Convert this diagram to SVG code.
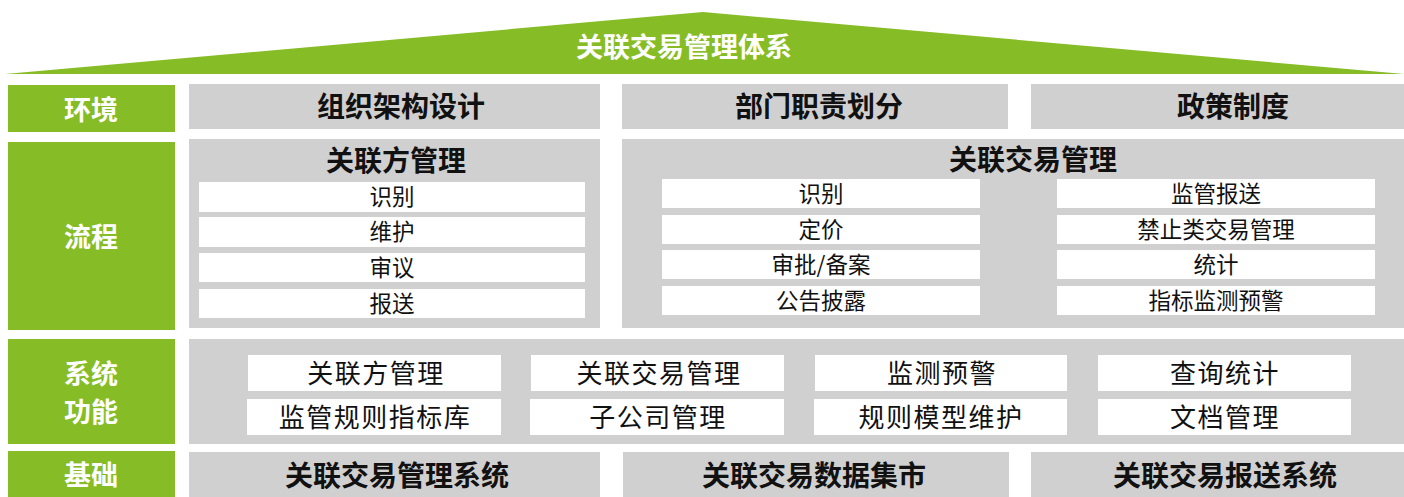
<svg xmlns="http://www.w3.org/2000/svg" width="1404" height="497" viewBox="0 0 1404 497">
<style>
text{font-family:"Noto Sans CJK SC","Noto Sans",sans-serif;text-anchor:middle;}
.g{fill:#86BC25;}
.p{fill:#D0D0D0;}
.w{fill:#FFFFFF;}
.lbl{fill:#FFFFFF;font-size:27px;font-weight:700;}
.hd{fill:#111111;font-size:28px;font-weight:700;}
.it{fill:#111111;font-size:22.5px;font-weight:400;}
.si{fill:#111111;font-size:26px;font-weight:400;letter-spacing:1.5px;}
</style>
<rect width="1404" height="497" fill="#FFFFFF"/>
<g id="roof">
<polygon class="g" points="5,74 703,12 1404,74"/>
<text class="lbl" x="684" y="57" font-size="28.5">关联交易管理体系</text>
</g>
<g id="row-env">
<rect class="g" x="8" y="85" width="167" height="47"/>
<text class="lbl" x="91" y="120">环境</text>
<g id="env-org"><rect class="p" x="189" y="84" width="411" height="45"/><text class="hd" x="401" y="117">组织架构设计</text></g>
<g id="env-dept"><rect class="p" x="622" y="84" width="386" height="45"/><text class="hd" x="819" y="117">部门职责划分</text></g>
<g id="env-policy"><rect class="p" x="1031" y="84" width="373" height="45"/><text class="hd" x="1233" y="117">政策制度</text></g>
</g>
<g id="row-process">
<rect class="g" x="8" y="142" width="167" height="188"/>
<text class="lbl" x="91" y="247">流程</text>
<g id="proc-party">
<rect class="p" x="189" y="139" width="411" height="189"/>
<text class="hd" x="396" y="171">关联方管理</text>
<rect class="w" x="199" y="182" width="386" height="30"/><text class="it" x="392" y="205">识别</text>
<rect class="w" x="199" y="217" width="386" height="30"/><text class="it" x="392" y="240">维护</text>
<rect class="w" x="199" y="253" width="386" height="29"/><text class="it" x="392" y="276">审议</text>
<rect class="w" x="199" y="289" width="386" height="29"/><text class="it" x="392" y="312">报送</text>
</g>
<g id="proc-trans">
<rect class="p" x="622" y="139" width="782" height="189"/>
<text class="hd" x="1033" y="170">关联交易管理</text>
<rect class="w" x="662" y="179" width="318" height="29"/><text class="it" x="821" y="202">识别</text>
<rect class="w" x="662" y="215" width="318" height="29"/><text class="it" x="821" y="238">定价</text>
<rect class="w" x="662" y="250" width="318" height="29"/><text class="it" x="821" y="273">审批/备案</text>
<rect class="w" x="662" y="286" width="318" height="29"/><text class="it" x="821" y="309">公告披露</text>
<rect class="w" x="1057" y="179" width="318" height="29"/><text class="it" x="1216" y="202">监管报送</text>
<rect class="w" x="1057" y="215" width="318" height="29"/><text class="it" x="1216" y="238">禁止类交易管理</text>
<rect class="w" x="1057" y="250" width="318" height="29"/><text class="it" x="1216" y="273">统计</text>
<rect class="w" x="1057" y="286" width="318" height="29"/><text class="it" x="1216" y="309">指标监测预警</text>
</g>
</g>
<g id="row-system">
<rect class="g" x="8" y="339" width="167" height="105"/>
<text class="lbl" font-size="26"><tspan x="91" y="384">系统</tspan><tspan x="91" y="422">功能</tspan></text>
<rect class="p" x="189" y="339" width="1215" height="105"/>
<g id="sys-1"><rect class="w" x="248" y="355" width="253" height="36"/><text class="si" x="376" y="383">关联方管理</text></g>
<g id="sys-2"><rect class="w" x="531" y="355" width="253" height="36"/><text class="si" x="659" y="383">关联交易管理</text></g>
<g id="sys-3"><rect class="w" x="815" y="355" width="252" height="36"/><text class="si" x="942" y="383">监测预警</text></g>
<g id="sys-4"><rect class="w" x="1098" y="355" width="253" height="36"/><text class="si" x="1225" y="383">查询统计</text></g>
<g id="sys-5"><rect class="w" x="247" y="399" width="254" height="36"/><text class="si" x="375" y="427">监管规则指标库</text></g>
<g id="sys-6"><rect class="w" x="530" y="399" width="254" height="36"/><text class="si" x="658" y="427">子公司管理</text></g>
<g id="sys-7"><rect class="w" x="814" y="399" width="253" height="36"/><text class="si" x="941" y="427">规则模型维护</text></g>
<g id="sys-8"><rect class="w" x="1098" y="399" width="253" height="36"/><text class="si" x="1225" y="427">文档管理</text></g>
</g>
<g id="row-base">
<rect class="g" x="8" y="451" width="167" height="46"/>
<text class="lbl" x="91" y="485">基础</text>
<g id="base-1"><rect class="p" x="189" y="452" width="411" height="45"/><text class="hd" x="397" y="486">关联交易管理系统</text></g>
<g id="base-2"><rect class="p" x="623" y="452" width="386" height="45"/><text class="hd" x="814" y="486">关联交易数据集市</text></g>
<g id="base-3"><rect class="p" x="1031" y="452" width="373" height="45"/><text class="hd" x="1225" y="486">关联交易报送系统</text></g>
</g>
<g id="connectors"></g>
</svg>
